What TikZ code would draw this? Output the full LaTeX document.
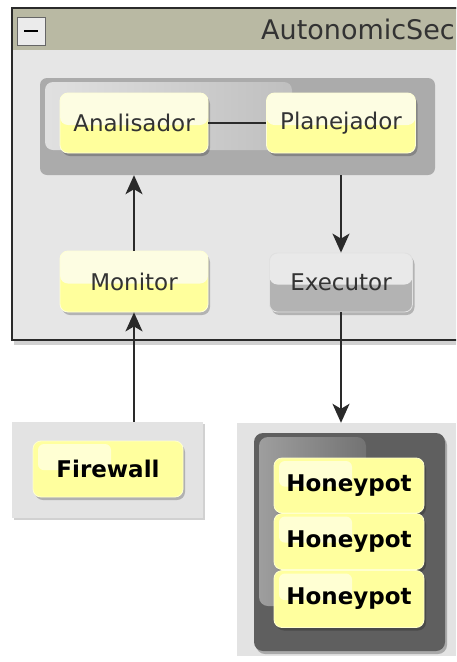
\documentclass[tikz,border=0pt]{standalone}
\usepackage{fontspec}
\setmainfont{DejaVu Sans}
\usetikzlibrary{shadows,arrows.meta,calc}
\definecolor{titlebar}{HTML}{B9B9A3}
\definecolor{winbg}{HTML}{E6E6E6}
\definecolor{grp}{HTML}{ABABAB}
\definecolor{yhigh}{HTML}{FDFDE2}
\definecolor{ylow}{HTML}{FFFF9C}
\definecolor{yfull}{HTML}{FFFF9E}
\definecolor{ghigh}{HTML}{E9E9E9}
\definecolor{glow}{HTML}{B3B3B3}
\definecolor{txt}{HTML}{333333}
\definecolor{boxbg}{HTML}{E3E3E3}
\definecolor{darkbox}{HTML}{5F5F5F}
\definecolor{lnc}{HTML}{2A2A2A}
\tikzset{
  shd/.style={drop shadow={shadow xshift=2pt,shadow yshift=-3pt,opacity=0.22,fill=black}},
  glossy/.style 2 args={rounded corners=8pt, inner sep=0pt, fill=#2, draw=white!60!#2, line width=0.8pt, shd,
    path picture={\fill[#1] (path picture bounding box.north west) rectangle ([yshift=-2pt]path picture bounding box.east);},
    font=\fontsize{23}{27}\selectfont, text=txt},
  ynode/.style={glossy={yhigh}{ylow}},
  gnode/.style={glossy={ghigh}{glow}},
  hnode/.style={rounded corners=8pt, inner sep=0pt, fill=yfull, draw=white!50!yfull, line width=0.8pt, shd,
    path picture={\fill[white,opacity=0.55,rounded corners=6pt] ([xshift=5pt,yshift=-3pt]path picture bounding box.north west) rectangle ($(path picture bounding box.north west)!0.52!(path picture bounding box.south east)$);},
    font=\fontsize{23}{27}\selectfont\bfseries, text=black},
  conn/.style={draw=lnc, line width=2pt},
  arr/.style={conn, -{Stealth[length=19pt,width=17pt,inset=5pt]}},
}
\begin{document}
\begin{tikzpicture}[x=1pt,y=-1pt]
\useasboundingbox (0,0) rectangle (456,662);
\fill[white] (0,0) rectangle (456,662);
\clip (0,0) rectangle (456,662);
% window
\fill[black!18] (14,340) rectangle (470,345);
\node (win) [draw=lnc, line width=1.4pt, fill=winbg, minimum width=458pt, minimum height=332pt, inner sep=0pt] at (241,174) {};
\fill[titlebar] (13,9) rectangle (470,50);
\draw[lnc, line width=1.4pt] (12,8) -- (470,8);
\node (btn) [draw=black!60, fill=white!92!black, line width=0.8pt, minimum width=28pt, minimum height=28pt, inner sep=0pt] at (31,31) {};
\draw[black, line width=2.6pt] (24,31) -- (38,31);
\node (title) [anchor=east, inner sep=0pt, font=\fontsize{27}{31}\selectfont, text=txt] at (455,29) {AutonomicSec};
% inner group
\node (grp) [rounded corners=7pt, fill=grp, minimum width=395pt, minimum height=97pt, inner sep=0pt] at (237.5,126.5) {};
\shade[left color=black!12, right color=black!25, rounded corners=8pt] (45,82) rectangle (292,150);
\node (ana) [ynode, minimum width=148pt, minimum height=60pt] at (134,123) {Analisador};
\node (pla) [ynode, minimum width=149pt, minimum height=60pt] at (341,123) {Planejador};
\draw[conn] (ana) -- (pla);
\node (mon) [ynode, minimum width=148pt, minimum height=61pt] at (134,281.5) {Monitor};
\node (exe) [gnode, minimum width=143pt, minimum height=59pt] at (341,282.5) {Executor};
% firewall group
\node (fwbox) [fill=boxbg, minimum width=191pt, minimum height=96pt, inner sep=0pt,
  drop shadow={shadow xshift=2pt,shadow yshift=-2pt,opacity=0.18,fill=black}] at (107.5,470) {};
\node (fw) [hnode, minimum width=150pt, minimum height=56pt] at (108,469) {Firewall};
% honeypot group
\node (hpbox) [fill=boxbg, minimum width=219pt, minimum height=233pt, inner sep=0pt] at (346.5,539.5) {};
\node (hpdark) [fill=darkbox, rounded corners=9pt, minimum width=191pt, minimum height=218pt, inner sep=0pt,
  drop shadow={shadow xshift=2pt,shadow yshift=-3pt,opacity=0.25,fill=black}] at (349.5,542) {};
\shade[left color=black!38, right color=black!55, rounded corners=9pt] (259,437) rectangle (366,606);
\node (hp1) [hnode, minimum width=150pt, minimum height=55pt] at (349,485.5) {Honeypot};
\node (hp2) [hnode, minimum width=150pt, minimum height=56pt] at (349,541.5) {Honeypot};
\node (hp3) [hnode, minimum width=150pt, minimum height=57pt] at (349,599) {Honeypot};
% connectors
\draw[arr] (fwbox.north -| mon.south) -- (mon.south);
\draw[arr] (mon.north) -- (grp.south -| mon.north);
\draw[arr] (grp.south -| exe.north) -- (exe.north);
\draw[arr] (exe.south) -- (hpbox.north -| exe.south);
\end{tikzpicture}
\end{document}
